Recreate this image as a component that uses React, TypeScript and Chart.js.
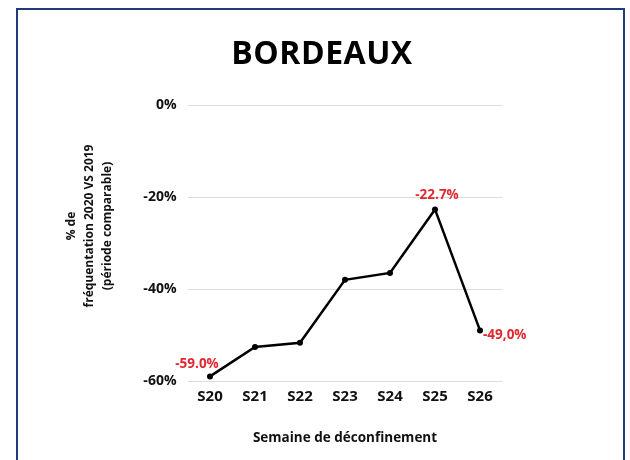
import React, { useEffect, useRef } from "react";
import { Chart, registerables } from "chart.js";

Chart.register(...registerables);

const weeks = ["S20", "S21", "S22", "S23", "S24", "S25", "S26"];
const frequentation = [-59.0, -52.6, -51.7, -38.0, -36.5, -22.7, -49.0];
const pointLabels = ["-59.0%", "", "", "", "", "-22.7%", "-49,0%"];
const yTicks = [0, -20, -40, -60];
const chartTitle = "BORDEAUX";
const yTitle = ["% de", "fréquentation 2020 VS 2019", "(période comparable)"];
const xTitle = "Semaine de déconfinement";

const FONT = "'Open Sans', 'DejaVu Sans', sans-serif";
const RED = "#e0282e";

const textPlugin = {
  id: "texts",
  afterDraw(chart: any) {
    const ctx = chart.ctx;
    const area = chart.chartArea;
    ctx.save();
    // main title
    ctx.font = `bold 32px ${FONT}`;
    ctx.fillStyle = "#000";
    ctx.textAlign = "center";
    ctx.textBaseline = "middle";
    (ctx as any).letterSpacing = "0.5px";
    ctx.fillText(chartTitle, chart.width / 2 + 7, 55);
    (ctx as any).letterSpacing = "0px";
    // y-axis title
    ctx.save();
    ctx.translate(72, (area.top + area.bottom) / 2 - 17);
    ctx.rotate(-Math.PI / 2);
    ctx.font = `bold 12px ${FONT}`;
    ctx.fillStyle = "#111";
    yTitle.forEach((line, i) => ctx.fillText(line, 0, i * 18));
    ctx.restore();
    ctx.restore();
  },
  afterDatasetsDraw(chart: any) {
    const meta = chart.getDatasetMeta(0);
    const ctx = chart.ctx;
    ctx.save();
    ctx.font = `bold 13.5px ${FONT}`;
    ctx.fillStyle = RED;
    ctx.textBaseline = "middle";
    meta.data.forEach((pt: any, i: number) => {
      const txt = pointLabels[i];
      if (!txt) return;
      if (i === 0) {
        ctx.textAlign = "center";
        ctx.fillText(txt, pt.x - 13, pt.y - 12);
      } else if (i === pointLabels.length - 1) {
        ctx.textAlign = "left";
        ctx.fillText(txt, pt.x + 3, pt.y + 5);
      } else {
        ctx.textAlign = "center";
        ctx.fillText(txt, pt.x + 2, pt.y - 14);
      }
    });
    ctx.restore();
  },
};

export default function App() {
  const ref = useRef<HTMLCanvasElement | null>(null);
  useEffect(() => {
    document.body.style.margin = "0";
    const canvas = ref.current;
    if (!canvas) return;
    const chart = new Chart(canvas, {
      type: "line",
      data: {
        labels: weeks,
        datasets: [
          {
            data: frequentation,
            borderColor: "#000",
            backgroundColor: "#000",
            borderWidth: 2.5,
            pointRadius: 3,
            pointBackgroundColor: "#000",
            pointBorderWidth: 0,
            tension: 0,
          },
        ],
      },
      options: {
        animation: false,
        responsive: false,
        maintainAspectRatio: false,
        layout: { padding: { left: 45, right: 127.5, top: 105, bottom: 0 } },
        plugins: {
          legend: { display: false },
          tooltip: { enabled: false },
          title: { display: false },
        },
        scales: {
          x: {
            offset: true,
            grid: { display: false, drawTicks: false },
            border: { display: false },
            ticks: {
              color: "#111",
              padding: 7,
              font: { family: FONT, size: 15, weight: "bold" },
            },
            title: {
              display: true,
              text: xTitle,
              color: "#111",
              font: { family: FONT, size: 13.5, weight: "bold" },
              padding: { top: 0, bottom: 14 },
            },
            afterFit(scale: any) {
              scale.height = 79;
            },
          },
          y: {
            min: -60,
            max: 0,
            afterBuildTicks(scale: any) {
              scale.ticks = yTicks.map((v) => ({ value: v }));
            },
            grid: { color: "#dcdcdc", drawTicks: false, lineWidth: 1 },
            border: { display: false },
            ticks: {
              color: "#111",
              padding: 11,
              font: { family: FONT, size: 14, weight: "bold" },
              callback: (v: any) => `${v}%`,
            },
            afterFit(scale: any) {
              scale.width = 142.5;
            },
          },
        },
      },
      plugins: [textPlugin],
    });
    return () => chart.destroy();
  }, []);

  return (
    <div style={{ position: "relative", width: 630, height: 460, overflow: "hidden", background: "#fff" }}>
      <div
        style={{
          position: "absolute",
          left: 16,
          top: 8,
          width: 605,
          height: 520,
          border: "2px solid #1f3b7c",
          boxSizing: "content-box",
        }}
      />
      <canvas ref={ref} width={630} height={460} style={{ position: "absolute", left: 0, top: 0 }} />
    </div>
  );
}
